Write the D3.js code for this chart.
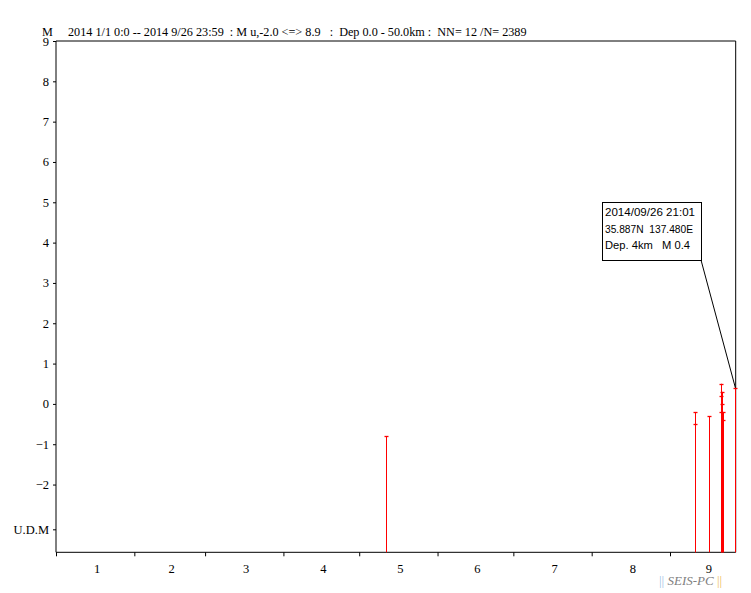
<!DOCTYPE html>
<html><head><meta charset="utf-8">
<script src="https://cdn.jsdelivr.net/npm/d3@7"></script>
<style>body{margin:0;background:#fff}svg{display:block}</style>
</head><body><svg id="c" width="751" height="593"></svg>
<script>
// ---- data ----
const titleText = "2014 1/1 0:0 -- 2014 9/26 23:59  : M u,-2.0 <=> 8.9   :  Dep 0.0 - 50.0km :  NN= 12 /N= 2389";
const yTicks = [9, 8, 7, 6, 5, 4, 3, 2, 1, 0, -1, -2];
const udmValue = -3.11;
const monthLabels = ["1", "2", "3", "4", "5", "6", "7", "8", "9"];
const eventTimes = [
  "2014-05-11T12:00", "2014-09-11T00:00", "2014-09-11T01:00", "2014-09-16T07:00",
  "2014-09-21T04:00", "2014-09-21T04:30", "2014-09-21T05:00", "2014-09-21T18:00",
  "2014-09-21T18:30", "2014-09-21T19:00", "2014-09-21T20:00", "2014-09-26T21:01"
];
const eventMags = [-0.8, -0.2, -0.5, -0.3, 0.5, 0.2, -0.2, 0.3, 0.0, -0.4, -0.2, 0.4];
const annotation = ["2014/09/26 21:01", "35.887N  137.480E", "Dep. 4km   M 0.4"];

// ---- chart ----
const svg = d3.select("#c");
const L = 56, R = 735.7, T = 41, B = 552.3;
const parse = d3.timeParse("%Y-%m-%dT%H:%M");
const x = d3.scaleTime().domain([new Date(2014,0,1), new Date(2014,8,27)]).range([L, R]);
const y = d3.scaleLinear().domain([-3.68, 9]).range([B, T]);
const serif = "'Liberation Serif','Times New Roman',serif";

// frame: top and right
svg.append("line").attr("x1", L).attr("x2", R).attr("y1", T).attr("y2", T).attr("stroke", "#000");
svg.append("line").attr("x1", R).attr("x2", R).attr("y1", T).attr("y2", B).attr("stroke", "#000");

// y axis
const yAxis = d3.axisLeft(y).tickValues(yTicks.concat([udmValue]))
  .tickSize(3).tickPadding(4)
  .tickFormat(d => d === udmValue ? "U.D.M" : d3.format("d")(d));
const gy = svg.append("g").attr("transform", `translate(${L},0)`).call(yAxis);
gy.select(".domain").attr("d", `M0,${T}V${B}`);
gy.selectAll("text").attr("font-family", serif).attr("font-size", 12.5).attr("fill", "#000");
gy.selectAll("line").attr("stroke", "#000");

// x axis (month boundaries)
const months = d3.timeMonth.range(new Date(2014,0,1), new Date(2014,8,27));
const xAxis = d3.axisBottom(x).tickValues(months).tickSize(4).tickFormat("");
const gx = svg.append("g").attr("transform", `translate(0,${B})`).call(xAxis);
gx.select(".domain").attr("d", `M${L},0H${R}`);
gx.selectAll("line").attr("stroke", "#000");
// month labels near mid month
svg.append("g").selectAll("text").data(monthLabels).join("text")
  .attr("x", (d, i) => {
    const s = new Date(2014, i, 1), e = new Date(2014, i + 1, 1);
    return i === 8 ? x(new Date(2014,8,16)) + 1 : (x(s) + x(e)) / 2 + 2;
  })
  .attr("y", 573).attr("text-anchor", "middle")
  .attr("font-family", serif).attr("font-size", 12.5).text(d => d);

// title
svg.append("text").attr("x", 42).attr("y", 35.5).attr("font-family", serif).attr("font-size", 12.2).text("M");
svg.append("text").attr("x", 68).attr("y", 35.5).attr("font-family", serif).attr("font-size", 12.2)
  .attr("xml:space", "preserve").style("white-space", "pre").text(titleText);

// events
const ev = eventTimes.map((t, i) => ({ t: parse(t), m: eventMags[i] }));
const ge = svg.append("g");
ge.selectAll("line.stem").data(ev).join("line").attr("class", "stem")
  .attr("x1", d => Math.round(x(d.t)) + 0.5).attr("x2", d => Math.round(x(d.t)) + 0.5)
  .attr("y1", B).attr("y2", d => y(d.m)).attr("stroke", "#f00").attr("stroke-width", 1);
ge.selectAll("line.tick").data(ev).join("line").attr("class", "tick")
  .attr("x1", d => Math.round(x(d.t)) - 1.5).attr("x2", d => Math.round(x(d.t)) + 2.5)
  .attr("y1", d => Math.round(y(d.m)) + 0.5).attr("y2", d => Math.round(y(d.m)) + 0.5)
  .attr("stroke", "#f00").attr("stroke-width", 1.3);

// annotation
const last = ev[ev.length - 1];
const bx = 602, by = 202, bw = 99, bh = 58;
svg.append("line").attr("x1", bx + bw).attr("y1", by + bh).attr("x2", x(last.t)).attr("y2", y(last.m))
  .attr("stroke", "#000");
svg.append("rect").attr("x", bx + 0.5).attr("y", by + 0.5).attr("width", bw).attr("height", bh)
  .attr("fill", "#fff").attr("stroke", "#000");
const annLen = [90, 88, 85];
svg.append("g").selectAll("text").data(annotation).join("text")
  .attr("x", bx + 3).attr("y", (d, i) => by + 14 + i * 16.5)
  .attr("font-family", "'Liberation Sans',Arial,sans-serif").attr("font-size", 11.5)
  .attr("textLength", (d, i) => annLen[i]).attr("lengthAdjust", "spacingAndGlyphs")
  .attr("xml:space", "preserve").style("white-space", "pre").text(d => d);

// watermark
const wm = svg.append("text").attr("x", 659).attr("y", 585).attr("font-family", serif).attr("font-size", 13)
  .attr("xml:space", "preserve").style("white-space", "pre");
wm.append("tspan").attr("fill", "#9cc3e6").text("|| ");
wm.append("tspan").attr("fill", "#808080").attr("font-style", "italic").text("SEIS-PC");
wm.append("tspan").attr("fill", "#f0c060").text(" ||");
</script></body></html>
